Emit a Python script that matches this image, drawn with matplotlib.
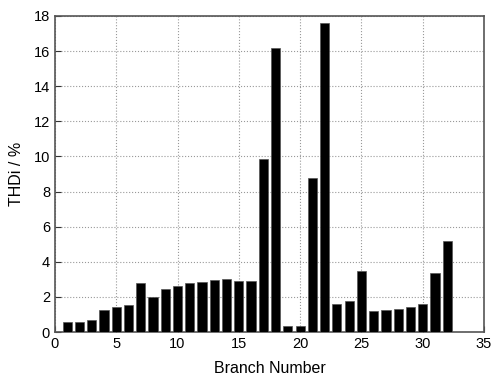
import matplotlib
matplotlib.use("Agg")
from matplotlib import pyplot as plt

plt.rcParams['font.family'] = ['Liberation Sans', 'DejaVu Sans']

# branch numbers and THDi values
branch = list(range(1, 33))
thdi = [0.55, 0.55, 0.70, 1.28, 1.43, 1.53, 2.78, 2.00, 2.44, 2.62,
        2.78, 2.87, 2.96, 3.00, 2.89, 2.89, 9.86, 16.2, 0.34, 0.33,
        8.80, 17.6, 1.60, 1.76, 3.49, 1.21, 1.26, 1.34, 1.42, 1.59,
        3.38, 5.20]

fig = plt.figure(figsize=(4.99, 3.8), dpi=100)
ax = fig.add_axes([0.110, 0.126, 0.860, 0.832])

ax.bar(branch, thdi, width=0.75, color='black', edgecolor='#555555', linewidth=0.5, zorder=3)

ax.set_xlim(0, 35)
ax.set_ylim(0, 18)
ax.set_xticks(range(0, 36, 5))
ax.set_yticks(range(0, 19, 2))
ax.grid(True, linestyle=':', color='#999999', linewidth=0.8, zorder=0)
ax.tick_params(direction='in', length=4, labelsize=10.5, color='#333333')
for s in ax.spines.values():
    s.set_color('#555555')
    s.set_linewidth(1.2)

ax.set_xlabel('Branch Number', fontsize=11.5, labelpad=7)
ax.set_ylabel('THDi / %', fontsize=11.5, labelpad=7)

plt.savefig('out.png')
